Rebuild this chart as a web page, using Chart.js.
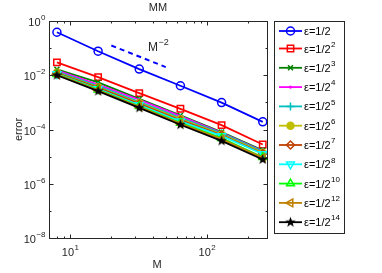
<!DOCTYPE html>
<html>
<head>
<meta charset="utf-8">
<script src="https://cdn.jsdelivr.net/npm/chart.js@4.4.1/dist/chart.umd.min.js"></script>
<style>
    html, body { margin: 0; padding: 0; background: #fff; }
    #wrap { width: 382px; height: 273px; }
</style>
</head>
<body>
<div id="wrap"><canvas id="chart" width="382" height="273"></canvas></div>
<script>
// data
const M = [8, 16, 32, 64, 128, 256];
const err1  = [0.385, 0.077, 0.0169, 0.0041, 9.8e-4, 1.92e-4];
const err2  = [0.0300, 0.0085, 0.0022, 5.8e-4, 1.45e-4, 2.8e-5];
const err3  = [0.0165, 0.0055, 0.00135, 3.3e-4, 8.0e-5, 1.7e-5];
const err4  = [0.0150, 0.0045, 0.00125, 3.1e-4, 7.6e-5, 1.6e-5];
const err5  = [0.0135, 0.0040, 0.00105, 2.7e-4, 7.2e-5, 1.55e-5];
const err6  = [0.0125, 0.0036, 0.00095, 2.4e-4, 6.6e-5, 1.4e-5];
const err7  = [0.0120, 0.0034, 0.00088, 2.2e-4, 6.2e-5, 1.3e-5];
const err8  = [0.0112, 0.0031, 0.00080, 2.0e-4, 5.8e-5, 1.25e-5];
const err10 = [0.0108, 0.0029, 0.00072, 1.75e-4, 4.8e-5, 9.5e-6];
const err12 = [0.0105, 0.0028, 0.00068, 1.65e-4, 4.4e-5, 9.0e-6];
const err14 = [0.0100, 0.0026, 0.00063, 1.5e-4, 3.8e-5, 7.8e-6];

const refM = [20, 50];            // M^-2 reference segment
const refErr = [0.125, 0.02];

const epsExp = ['', '2', '3', '4', '5', '6', '7', '8', '10', '12', '14'];
const yTickExp = [0, -2, -4, -6, -8];
const xTickExp = [1, 2];

const allErr = [err1, err2, err3, err4, err5, err6, err7, err8, err10, err12, err14];

const FONT = '"Liberation Sans", Arial, Helvetica, sans-serif';

function makeStar(r) {
    const s = Math.ceil(r * 2 + 2);
    const c = document.createElement('canvas');
    c.width = s; c.height = s;
    const g = c.getContext('2d');
    g.fillStyle = '#000';
    g.beginPath();
    for (let k = 0; k < 10; k++) {
        const a = -Math.PI / 2 + k * Math.PI / 5;
        const rr = k % 2 ? r * 0.42 : r;
        g.lineTo(s / 2 + rr * Math.cos(a), s / 2 + rr * Math.sin(a));
    }
    g.closePath();
    g.fill();
    return c;
}
const starImg = makeStar(5.5);

// marker styles per series (matlab-like)
const styles = [
    { color: '#0000ff', pointStyle: 'circle',   radius: 4,   rotation: 0,   fill: false },
    { color: '#ff0000', pointStyle: 'rect',     radius: 4.5, rotation: 0,   fill: false },
    { color: '#008000', pointStyle: 'crossRot', radius: 3.5, rotation: 0,   fill: false },
    { color: '#ff00ff', pointStyle: 'circle',   radius: 0.8, rotation: 0,   fill: true },
    { color: '#00bfbf', pointStyle: 'cross',    radius: 4,   rotation: 0,   fill: false },
    { color: '#bfbf00', pointStyle: 'circle',   radius: 3.5, rotation: 0,   fill: true },
    { color: '#bf4000', pointStyle: 'rectRot',  radius: 4,   rotation: 0,   fill: false },
    { color: '#00ffff', pointStyle: 'triangle', radius: 4.5, rotation: 180, fill: false },
    { color: '#00ff00', pointStyle: 'triangle', radius: 4.5, rotation: 0,   fill: false },
    { color: '#c08000', pointStyle: 'triangle', radius: 4.5, rotation: 270, fill: false },
    { color: '#000000', pointStyle: starImg,    radius: 5,   rotation: 0,   fill: true }
];

const datasets = allErr.map((vals, i) => ({
    data: M.map((m, k) => ({ x: m, y: vals[k] })),
    borderColor: styles[i].color,
    borderWidth: 1.8,
    pointStyle: styles[i].pointStyle,
    pointRadius: styles[i].radius,
    pointRotation: styles[i].rotation,
    pointBorderColor: styles[i].color,
    pointBackgroundColor: styles[i].fill ? styles[i].color : 'rgba(0,0,0,0)',
    pointBorderWidth: 1.5,
    order: allErr.length - i,
    tension: 0
}));

datasets.push({
    data: refM.map((m, k) => ({ x: m, y: refErr[k] })),
    borderColor: '#0000ff',
    borderWidth: 2,
    borderDash: [5, 4],
    pointRadius: 0,
    order: 20
});

function drawPow(ctx, base, exp, x, y, align, size) {
    const bs = size || 11;
    const es = Math.round(bs * 0.72);
    ctx.font = `${bs}px ${FONT}`;
    const wb = ctx.measureText(base).width;
    ctx.font = `${es}px ${FONT}`;
    const we = exp ? ctx.measureText(exp).width : 0;
    const total = wb + we;
    const x0 = align === 'right' ? x - total : align === 'center' ? x - total / 2 : x;
    ctx.textAlign = 'left';
    ctx.textBaseline = 'middle';
    ctx.font = `${bs}px ${FONT}`;
    ctx.fillText(base, x0, y);
    if (exp) {
        ctx.font = `${es}px ${FONT}`;
        ctx.fillText(exp, x0 + wb + 0.5, y - 5);
    }
}

function expText(e) {
    return e < 0 ? '\u2212' + (-e) : String(e);
}

const matlabAxes = {
    id: 'matlabAxes',
    afterDraw(chart) {
        const ctx = chart.ctx;
        const xs = chart.scales.x, ys = chart.scales.y;
        const a = chart.chartArea;
        const L = Math.round(a.left) + 0.5, R = Math.round(a.right) + 0.5;
        const T = Math.round(a.top) + 0.5, B = Math.round(a.bottom) + 0.5;
        ctx.save();
        ctx.strokeStyle = '#262626';
        ctx.lineWidth = 1;
        ctx.strokeRect(L, T, R - L, B - T);

        // x ticks, inward, bottom and top
        ctx.beginPath();
        for (let d = 0; d <= 2; d++) {
            for (let k = 1; k <= 9; k++) {
                const v = k * Math.pow(10, d);
                if (v < xs.min || v > xs.max) continue;
                const px = Math.round(xs.getPixelForValue(v)) + 0.5;
                const len = k === 1 ? 4 : 2;
                ctx.moveTo(px, B); ctx.lineTo(px, B - len);
                ctx.moveTo(px, T); ctx.lineTo(px, T + len);
            }
        }
        // y ticks
        for (let e = -8; e <= 0; e++) {
            const py = Math.round(ys.getPixelForValue(Math.pow(10, e))) + 0.5;
            const len = e % 2 === 0 ? 4 : 2;
            ctx.moveTo(L, py); ctx.lineTo(L + len, py);
            ctx.moveTo(R, py); ctx.lineTo(R - len, py);
        }
        ctx.stroke();

        ctx.fillStyle = '#262626';
        yTickExp.forEach(e => {
            const py = ys.getPixelForValue(Math.pow(10, e));
            drawPow(ctx, '10', expText(e), a.left - 4, py + 2, 'right');
        });
        xTickExp.forEach(e => {
            const px = xs.getPixelForValue(Math.pow(10, e));
            drawPow(ctx, '10', expText(e), px, a.bottom + 15, 'center');
        });

        // title and axis labels
        ctx.font = `11px ${FONT}`;
        ctx.textAlign = 'center';
        ctx.textBaseline = 'middle';
        ctx.fillText('MM', (a.left + a.right) / 2, 8);
        ctx.fillText('M', (a.left + a.right) / 2 - 1, 265);
        ctx.save();
        ctx.translate(19, (a.top + a.bottom) / 2);
        ctx.rotate(-Math.PI / 2);
        ctx.fillText('error', 0, 0);
        ctx.restore();

        // M^-2 annotation
        drawPow(ctx, 'M', '\u22122', 148, 48, 'left', 12);

        // legend
        const lx0 = 274.5, ly0 = 21.5, lx1 = 344.5, ly1 = 233.5;
        ctx.fillStyle = '#fff';
        ctx.fillRect(lx0, ly0, lx1 - lx0, ly1 - ly0);
        ctx.strokeStyle = '#262626';
        ctx.strokeRect(lx0, ly0, lx1 - lx0, ly1 - ly0);
        epsExp.forEach((ex, i) => {
            const st = styles[i];
            const cy = i === 0 ? 31 : 48.5 + (i - 1) * 19.3;
            ctx.strokeStyle = st.color;
            ctx.lineWidth = 1.8;
            ctx.beginPath();
            ctx.moveTo(279, cy); ctx.lineTo(302, cy);
            ctx.stroke();
            ctx.lineWidth = 1.5;
            ctx.fillStyle = st.fill ? st.color : 'rgba(0,0,0,0)';
            Chart.helpers.drawPoint(ctx, {
                pointStyle: st.pointStyle, rotation: st.rotation,
                radius: st.radius, borderWidth: 1.5
            }, 290.5, cy);
            ctx.fillStyle = '#000';
            drawPow(ctx, '\u03b5=1/2', ex, 304, cy + 1, 'left');
        });
        ctx.restore();
    }
};

new Chart(document.getElementById('chart'), {
    type: 'line',
    data: { datasets: datasets },
    options: {
        responsive: false,
        animation: false,
        layout: { padding: { left: 49, top: 21, right: 115, bottom: 35 } },
        plugins: { legend: { display: false }, tooltip: { enabled: false } },
        scales: {
            x: {
                type: 'logarithmic', min: 7, max: 275,
                ticks: { display: false },
                grid: { display: false, drawTicks: false },
                border: { display: false },
                afterFit(s) { s.height = 0; }
            },
            y: {
                type: 'logarithmic', min: 1e-8, max: 1,
                ticks: { display: false },
                grid: { display: false, drawTicks: false },
                border: { display: false },
                afterFit(s) { s.width = 0; }
            }
        }
    },
    plugins: [matlabAxes]
});
</script>
</body>
</html>
